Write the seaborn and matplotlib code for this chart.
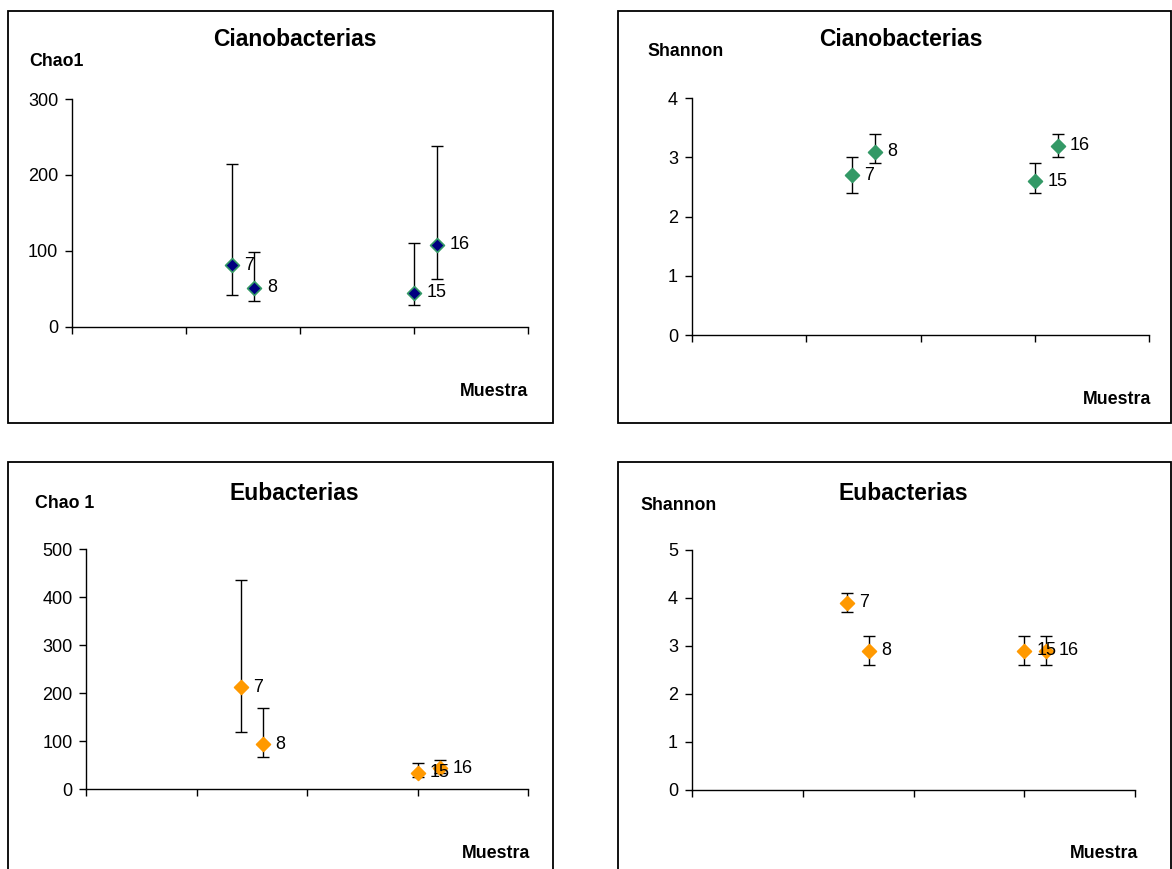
import numpy as np
import pandas as pd
import matplotlib
matplotlib.use("Agg")
import matplotlib.pyplot as plt
from matplotlib.patches import Rectangle
import seaborn as sns

# ---------------- data ----------------
samples = [7, 8, 15, 16]
sample_labels = ["7", "8", "15", "16"]

ciano_chao1 = [81, 51, 45, 108]
ciano_chao1_low = [42, 34, 28, 63]
ciano_chao1_high = [215, 99, 110, 238]

ciano_shannon = [2.7, 3.1, 2.6, 3.2]
ciano_shannon_low = [2.4, 2.9, 2.4, 3.0]
ciano_shannon_high = [3.0, 3.4, 2.9, 3.4]

eub_chao1 = [213, 94, 34, 44]
eub_chao1_low = [120, 67, 25, 35]
eub_chao1_high = [437, 169, 55, 61]

eub_shannon = [3.9, 2.9, 2.9, 2.9]
eub_shannon_low = [3.7, 2.6, 2.6, 2.6]
eub_shannon_high = [4.1, 3.2, 3.2, 3.2]

titles = ["Cianobacterias", "Cianobacterias", "Eubacterias", "Eubacterias"]
ylabels = ["Chao1", "Shannon", "Chao 1", "Shannon"]
xlabel = "Muestra"
yticks_list = [[0, 100, 200, 300], [0, 1, 2, 3, 4],
               [0, 100, 200, 300, 400, 500], [0, 1, 2, 3, 4, 5]]
xticks = [0, 5, 10, 15, 20]

# ---------------- style ----------------
sns.set_style("white")
plt.rcParams["font.family"] = ["Liberation Sans", "DejaVu Sans"]
plt.rcParams["text.color"] = "black"
plt.rcParams["axes.labelcolor"] = "black"
plt.rcParams["xtick.color"] = "black"
plt.rcParams["ytick.color"] = "black"

W, H = 1172, 869
fig = plt.figure(figsize=(W / 100, H / 100), dpi=100)
fig.patch.set_facecolor("white")


def fx(x):
    return x / W


def fy(y):
    return 1 - y / H


def axes_px(left, right, top, bottom):
    return [fx(left), fy(bottom), (right - left) / W, (bottom - top) / H]


panels = [
    dict(rect=axes_px(72, 528, 99, 326.7), box=(8, 553, 10.7, 423),
         title=(295, 40), ylab=(29, 62), mues=(528, 392),
         vals=ciano_chao1, lo=ciano_chao1_low, hi=ciano_chao1_high,
         face="#000080", edge="#339966"),
    dict(rect=axes_px(692, 1149, 98.3, 335), box=(618, 1171, 10.7, 423),
         title=(901, 40), ylab=(647, 52), mues=(1151, 399),
         vals=ciano_shannon, lo=ciano_shannon_low, hi=ciano_shannon_high,
         face="#339966", edge="#339966"),
    dict(rect=axes_px(86.4, 528, 549.3, 789.3), box=(8, 553, 462, 880),
         title=(294, 493), ylab=(35, 503), mues=(530, 853),
         vals=eub_chao1, lo=eub_chao1_low, hi=eub_chao1_high,
         face="#FF9900", edge="#FF9900"),
    dict(rect=axes_px(692, 1135, 550, 790), box=(618, 1171, 462, 880),
         title=(903, 493), ylab=(640, 505), mues=(1138, 853),
         vals=eub_shannon, lo=eub_shannon_low, hi=eub_shannon_high,
         face="#FF9900", edge="#FF9900"),
]

for i, p in enumerate(panels):
    # panel border
    x0, x1, y0, y1 = p["box"]
    fig.add_artist(Rectangle((fx(x0), fy(y1)), (x1 - x0) / W, (y1 - y0) / H,
                             transform=fig.transFigure, fill=False,
                             edgecolor="black", linewidth=1.3, zorder=0))

    ax = fig.add_axes(p["rect"])
    ax.set_facecolor("none")
    df = pd.DataFrame({"Muestra": samples, "valor": p["vals"],
                       "lo": p["lo"], "hi": p["hi"]})
    vals = np.array(p["vals"], dtype=float)
    yerr = [vals - np.array(p["lo"]), np.array(p["hi"]) - vals]
    ax.errorbar(df["Muestra"], df["valor"], yerr=yerr, fmt="none",
                ecolor="black", elinewidth=1, capsize=4.5, capthick=1,
                zorder=2)
    sns.scatterplot(data=df, x="Muestra", y="valor", marker="D", s=50,
                    color=p["face"], edgecolor=p["edge"], linewidth=1.2,
                    ax=ax, zorder=3, legend=False)
    for xv, yv, lab in zip(samples, vals, sample_labels):
        ax.annotate(lab, (xv, yv), xytext=(9, 0), textcoords="offset points",
                    ha="left", va="center", fontsize=13, color="black")

    yt = yticks_list[i]
    ax.set_xlim(0, 20)
    ax.set_ylim(0, yt[-1])
    ax.set_xticks(xticks)
    ax.set_xticklabels([])
    ax.set_yticks(yt)
    ax.set_yticklabels([str(t) for t in yt], fontsize=13)
    ax.tick_params(axis="both", direction="out", length=5, width=1,
                   color="black", labelcolor="black", pad=5,
                   bottom=True, left=True)
    ax.set_xlabel("")
    ax.set_ylabel("")
    for s in ["top", "right"]:
        ax.spines[s].set_visible(False)
    for s in ["left", "bottom"]:
        ax.spines[s].set_color("black")
        ax.spines[s].set_linewidth(1)

    fig.text(fx(p["title"][0]), fy(p["title"][1]), titles[i], ha="center",
             va="center", fontsize=16.5, fontweight="bold", color="black")
    fig.text(fx(p["ylab"][0]), fy(p["ylab"][1]), ylabels[i], ha="left",
             va="center", fontsize=12.8, fontweight="bold", color="black")
    fig.text(fx(p["mues"][0]), fy(p["mues"][1]), xlabel, ha="right",
             va="center", fontsize=12.8, fontweight="bold", color="black")

fig.savefig("out.png", dpi=100)
